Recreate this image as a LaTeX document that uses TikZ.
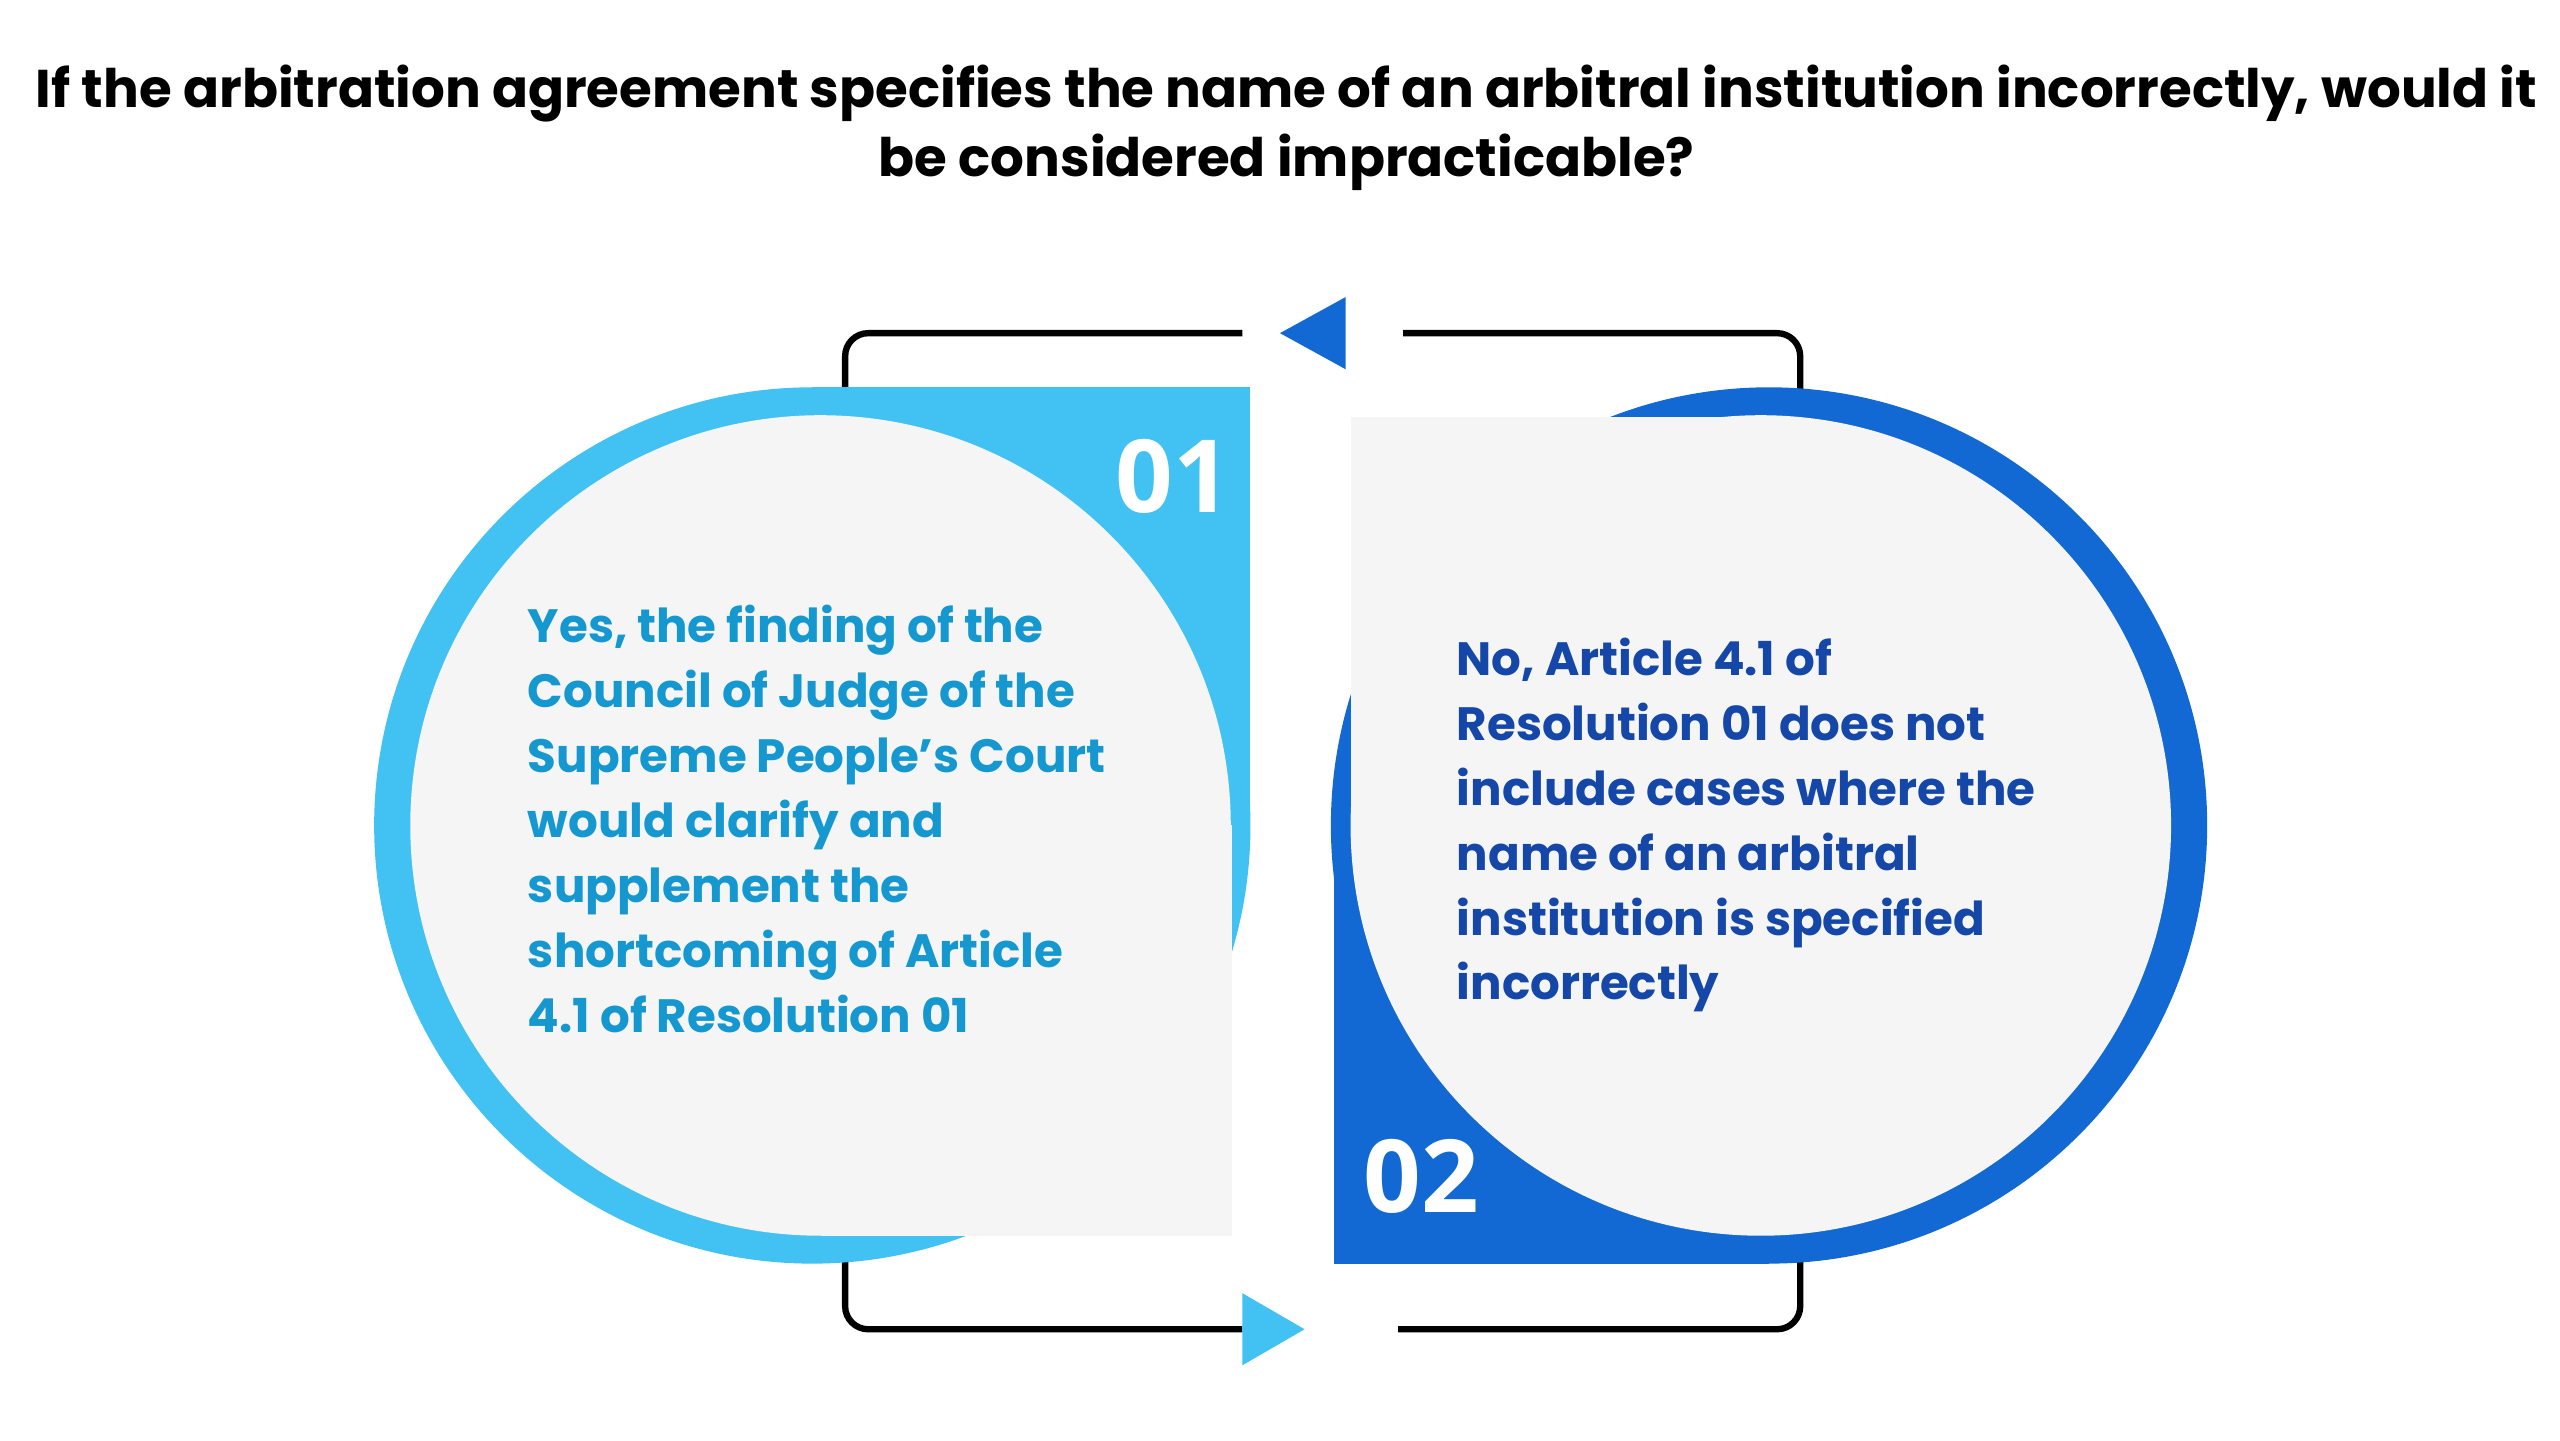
\documentclass[tikz,border=0pt]{standalone}
\usepackage{fontspec}
\setmainfont{Poppins}
\newfontfamily\numfont{Open Sans}
\definecolor{lb}{HTML}{42C1F3}
\definecolor{db}{HTML}{1269D3}
\definecolor{gr}{HTML}{F5F5F5}
\definecolor{lt}{HTML}{1597D0}
\definecolor{dt}{HTML}{1447A8}
\begin{document}
\begin{tikzpicture}[x=0.01cm,y=-0.01cm,
  brk/.style={line width=1.1pt,black,rounded corners=4pt},
  body/.style={font=\fontsize{8.1}{11.25}\selectfont\bfseries,align=left,anchor=north west,inner sep=0},
  num/.style={font=\fontsize{17.5}{20}\selectfont\numfont\bfseries,text=white,inner sep=0}]
\useasboundingbox (0,0) rectangle (1560,877.5);
\fill[white] (0,0) rectangle (1560,877.5);
% brackets
\draw[brk] (757,203) -- (515,203) -- (515,245);
\draw[brk] (515,765) -- (515,810) -- (757,810);
\draw[brk] (855,203) -- (1097,203) -- (1097,245);
\draw[brk] (1097,765) -- (1097,810) -- (852,810);
% triangles
\fill[db] (780,203) -- (820,181) -- (820,225) -- cycle;
\fill[lb] (795,810) -- (757,788) -- (757,832) -- cycle;
% left shape
\fill[lb] (495,503) circle[radius=267];
\fill[lb] (495,236) rectangle (762,503);
\fill[gr] (500,503) circle[radius=250];
\fill[gr] (500,503) rectangle (751,753);
% right shape
\fill[db] (1078,503) circle[radius=267];
\fill[db] (813,503) rectangle (1078,770);
\fill[gr] (1073,503) circle[radius=250];
\fill[gr] (823,254) rectangle (1073,503);
% numbers
\node[num] (n1) at (715,290) {01};
\node[num] (n2) at (866,717) {02};
% title
\node[font=\fontsize{9.2}{12}\selectfont\bfseries,align=center] (t) at (784,78) {If the arbitration agreement specifies the name of an arbitral institution incorrectly, would it\\be considered impracticable?};
% texts
\node[body,text=lt] (a) at (321,368) {Yes, the finding of the\\Council of Judge of the\\Supreme People’s Court\\would clarify and\\supplement the\\shortcoming of Article\\4.1 of Resolution 01};
\node[body,text=dt] (b) at (887,388) {No, Article 4.1 of\\Resolution 01 does not\\include cases where the\\name of an arbitral\\institution is specified\\incorrectly};
\end{tikzpicture}
\end{document}
